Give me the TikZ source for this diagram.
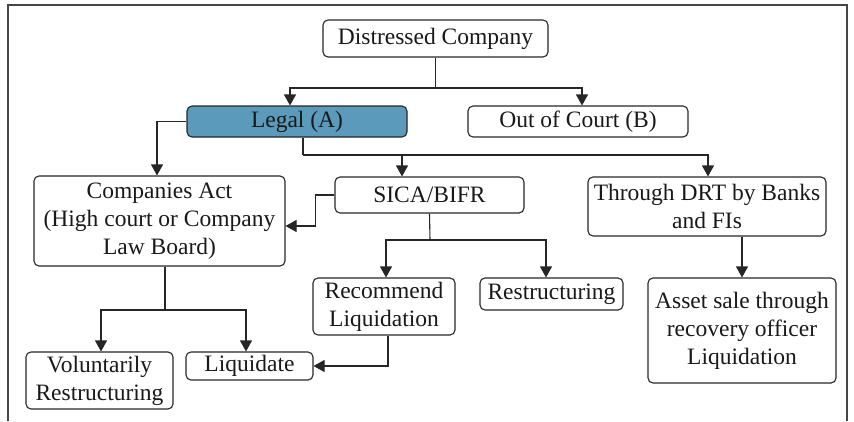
\documentclass[tikz,border=0pt]{standalone}
\usepackage{fontspec}
\setmainfont{Liberation Serif}
\usetikzlibrary{arrows.meta}
\definecolor{legalblue}{RGB}{91,154,186}
\definecolor{framegray}{RGB}{70,70,70}
\tikzset{
  box/.style={draw=black!85, line width=1.1pt, rounded corners=5pt, align=center, inner sep=0pt, font=\fontsize{23.5}{28}\selectfont, text=black!90},
  arr/.style={line width=1.1pt, draw=black!85, -{Triangle[width=12pt,length=11pt]}},
  ln/.style={line width=1.1pt, draw=black!85},
}
\begin{document}
\begin{tikzpicture}[x=1pt,y=-1pt]
\useasboundingbox (0,0) rectangle (854,421);
\draw[framegray, line width=1.5pt] (8,421) -- (8,5) -- (847,5) -- (847,421);
% nodes (x center, y center; width, height)
\node[box, minimum width=225pt, minimum height=37pt] (dc) at (435.5,38.5) {Distressed Company};
\node[box, fill=legalblue, minimum width=220pt, minimum height=31pt] (legal) at (297,121.5) {Legal (A)};
\node[box, minimum width=220pt, minimum height=31pt] (oc) at (578,121.5) {Out of Court (B)};
\node[box, minimum width=251pt, minimum height=90pt] (cact) at (159.5,221) {Companies Act\\(High court or Company\\Law Board)};
\node[box, minimum width=189pt, minimum height=36pt] (sica) at (429.5,195) {SICA/BIFR};
\node[box, minimum width=238pt, minimum height=59pt] (drt) at (707,206.5) {Through DRT by Banks\\and FIs};
\node[box, minimum width=142pt, minimum height=57pt] (rec) at (384,306.5) {Recommend\\Liquidation};
\node[box, minimum width=143pt, minimum height=32pt] (rst) at (551.5,294) {Restructuring};
\node[box, minimum width=188pt, minimum height=105pt] (asset) at (742,330.5) {Asset sale through\\recovery officer\\Liquidation};
\node[box, minimum width=147pt, minimum height=57pt] (vol) at (99.5,380.5) {Voluntarily\\Restructuring};
\node[box, minimum width=127pt, minimum height=28pt] (liq) at (249.5,366) {Liquidate};
% junctions
\coordinate (j1) at (435.5,88);
\coordinate (j2) at (303,155);
\coordinate (j3) at (430,240);
\coordinate (j4) at (165,310);
% connectors
\draw[ln] (dc.south) -- (j1);
\draw[arr] (j1) -| ([xshift=-7pt]legal.north);
\draw[arr] (j1) -| ([xshift=4pt]oc.north);
\draw[arr] (legal.west) -| ([xshift=-2.5pt]cact.north);
\draw[ln] ([xshift=6pt]legal.south) -- (j2);
\draw[arr] (j2) -| ([xshift=-27.5pt]sica.north);
\draw[arr] (j2) -| ([xshift=1pt]drt.north);
\draw[arr] (sica.west) -- ++(-19,0) |- ([yshift=-5pt]cact.east);
\draw[ln] (sica.south) -- (j3);
\draw[arr] (j3) -| ([xshift=2pt]rec.north);
\draw[arr] (j3) -| ([xshift=-5.5pt]rst.north);
\draw[arr] ([xshift=4pt]rec.south) |- (liq.east);
\draw[ln] ([xshift=5.5pt]cact.south) -- (j4);
\draw[arr] (j4) -| ([xshift=1.5pt]vol.north);
\draw[arr] (j4) -| ([xshift=-3.5pt]liq.north);
\draw[arr] ([xshift=35pt]drt.south) -- (asset.north);
\end{tikzpicture}
\end{document}
